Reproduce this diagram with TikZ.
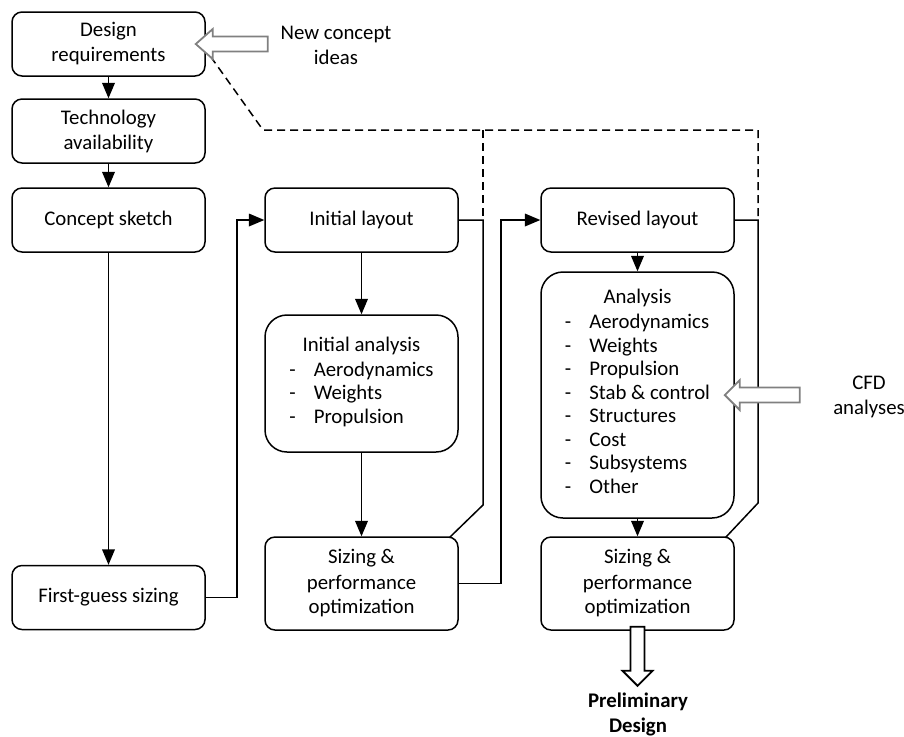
\documentclass[tikz,border=0pt]{standalone}
\usepackage{amssymb,amsfonts,amsmath}
\usepackage{color}
\usepackage{fontspec}
\setmainfont{Carlito}
\usepackage{tikz}
\usetikzlibrary{shapes,arrows,positioning,calc}

\definecolor{arrowgray}{RGB}{128,128,128}

\begin{document}
\begin{tikzpicture}[x=0.5pt, y=-0.5pt, line width=0.75pt,
	box/.style={draw, rounded corners=5pt, minimum width=96.5pt, minimum height=32pt, inner sep=0pt, align=center, font=\fontsize{10.4}{12.5}\selectfont},
	bigbox/.style={box, rounded corners=11pt},
	hollow/.style={draw=arrowgray, fill=white, line width=0.9pt, line join=miter},
	txt/.style={align=center, font=\fontsize{10.4}{12.5}\selectfont}]
				\useasboundingbox (0,0) rectangle (904,736);

				% left column
				\node [box] (req)    at (108.5,44)    {Design\\requirements};
				\node [box] (tech)   at (108.5,131)   {Technology\\availability};
				\node [box] (sketch) at (108.5,220)   {Concept sketch};
				\node [box] (guess)  at (108.5,597.5) {First-guess sizing};

				% middle column
				\node [box] (init) at (361.5,220) {Initial layout};
				\node [bigbox, minimum height=68.5pt] (ianal) at (361.5,383.5) {Initial analysis\\
					\renewcommand{\arraystretch}{0.94}\begin{tabular}[t]{@{}l@{\hspace{9pt}}l@{}}
					-&Aerodynamics\\ -&Weights\\ -&Propulsion
					\end{tabular}};
				\node [box, minimum height=46.5pt] (size1) at (361.5,583.5) {Sizing \&\\performance\\optimization};

				% right column
				\node [box] (rev) at (637.5,220) {Revised layout};
				\node [bigbox, minimum height=123pt] (anal) at (637.5,395) {Analysis\\
					\renewcommand{\arraystretch}{0.94}\begin{tabular}[t]{@{}l@{\hspace{9pt}}l@{}}
					-&Aerodynamics\\ -&Weights\\ -&Propulsion\\ -&Stab \& control\\
					-&Structures\\ -&Cost\\ -&Subsystems\\ -&Other
					\end{tabular}};
				\node [box, minimum height=46.5pt] (size2) at (637.5,583.5) {Sizing \&\\performance\\optimization};

				% side texts
				\node [txt] (newidea) at (336,45)  {New concept\\ideas};
				\node [txt] (cfd)     at (869,397) {CFD\\analyses};
				\node [txt, font=\fontsize{10.4}{12.5}\selectfont\bfseries] (prelim) at (638,714) {Preliminary\\Design};

				% flow
				\draw [-triangle 45] (req) -- (tech);
				\draw [-triangle 45] (tech) -- (sketch);
				\draw [-triangle 45] (sketch) -- (guess);
				\draw [-triangle 45] (guess.east) -- ++(31,0) |- (init.west);
				\draw [-triangle 45] (init) -- (ianal);
				\draw [-triangle 45] (ianal) -- (size1);
				\draw [-triangle 45] (size1.east) -- ++(42,0) |- (rev.west);
				\draw [-triangle 45] (rev) -- (anal);
				\draw [-triangle 45] (anal) -- (size2);

				% iteration loops
				\coordinate (loopa) at (483,220);
				\coordinate (loopb) at (758,220);
				\coordinate (dtop)  at (263,130);
				\draw (init.east) -- (loopa) -- ++(0,285) -- ($(size1.north east)+(-9,1)$);
				\draw (rev.east) -- (loopb) -- ++(0,283) -- ($(size2.north east)+(-9,1)$);
				\draw [dash pattern=on 4pt off 2.5pt] ($(req.south east)+(5,-20)$) -- (dtop) -- (loopb |- dtop) -- (loopb);
				\draw [dash pattern=on 4pt off 2.5pt] (loopa |- dtop) -- (loopa);

				% block arrows
				\draw [hollow] ($(req.east)+(-10,0)$) -- ++(17,-15) -- ++(0,7.5) -- ++(55,0) -- ++(0,15) -- ++(-55,0) -- ++(0,7.5) -- cycle;
				\draw [hollow] ($(anal.east)+(-10,0)$) -- ++(15,-15) -- ++(0,7.5) -- ++(60,0) -- ++(0,15) -- ++(-60,0) -- ++(0,7.5) -- cycle;
				\draw [hollow, draw=black] ($(size2.south)+(-7,-4)$) -- ++(14,0) -- ++(0,44) -- ++(8,0) -- ++(-15,15) -- ++(-15,-15) -- ++(8,0) -- cycle;

				\end{tikzpicture}
\end{document}
